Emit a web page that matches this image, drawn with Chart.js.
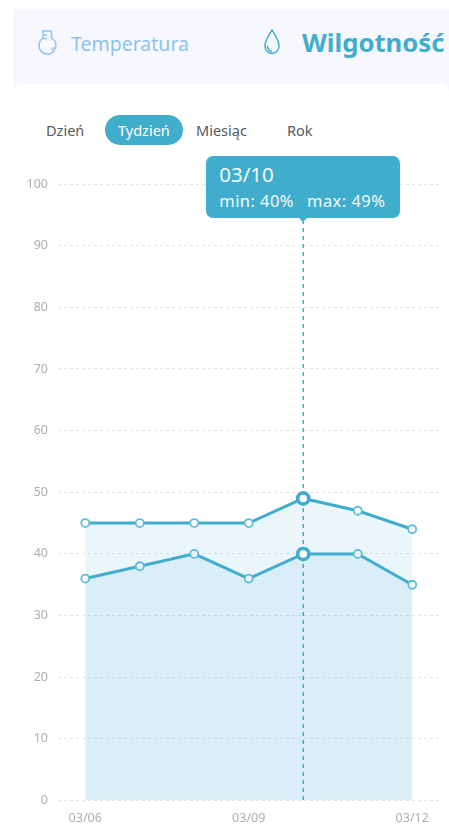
<!DOCTYPE html>
<html><head><meta charset="utf-8">
<script src="https://cdn.jsdelivr.net/npm/chart.js@4"></script>
<style>
html,body{margin:0;padding:0;background:#fff;width:449px;height:826px;overflow:hidden;font-family:"Noto Sans",sans-serif}
#panel{position:absolute;left:13px;top:9px;width:436px;height:85px;background:#f7f8fd}
#card{position:absolute;left:13px;top:84px;width:436px;height:30px;background:#fff;border-radius:8px 8px 0 0}
.t{position:absolute;white-space:nowrap;line-height:1}
svg{position:absolute}
canvas{position:absolute;left:0;top:0}
#tip{position:absolute;width:194px;height:62px;background:#41adcd;border-radius:7px;color:#f2fafc;z-index:3}
#tip:after{content:"";position:absolute;left:93px;bottom:-4px;border-left:4px solid transparent;border-right:4px solid transparent;border-top:4px solid #41adcd}
#tip .a{position:absolute;left:13px;top:5px;font-size:20.5px;line-height:26px}
#tip .b{position:absolute;left:13px;top:34px;font-size:16.5px;line-height:22px;letter-spacing:.45px;white-space:nowrap}
#tip .b span+span{margin-left:13px}
#pill{position:absolute;left:105px;top:115px;width:78px;height:30px;border-radius:15px;background:#41adcd}
</style></head><body>
<div id="panel"></div><div id="card"></div>
<svg style="left:37px;top:29px" width="22" height="28" viewBox="0 0 22 28" fill="none" stroke="#8cc3ef" stroke-width="1.5"><path d="M5 2h10M6 2v7C3 11 2 14 2 16.500 2 21.500 6 25 10.500 25S19 21.500 19 16.500C19 14 17.500 11 14.500 9V2M6 6h4M6 9.500h4"/><path d="M14 21c1.500-.5 2.500-1.700 3-3"/></svg>
<div class="t" style="left:71px;top:34px;font-size:19.500px;color:#8cc3ef">Temperatura</div>
<svg style="left:262px;top:28px" width="20" height="28" viewBox="0 0 20 28" fill="none" stroke="#41adcd" stroke-width="1.500"><path d="M10 2C8 5 3 12 3 18c0 4 3 7.500 7 7.500s7-3.500 7-7.500C17 12 12 5 10 2z"/><path d="M5.500 18c0 3 2 5 4.500 5.500"/></svg>
<div class="t" style="left:302px;top:30px;font-size:25.700px;font-weight:700;color:#41adcd">Wilgotność</div>
<div id="pill"></div>
<div class="t" style="left:46px;top:123px;font-size:14.500px;color:#555a63">Dzień</div>
<div class="t" style="left:118px;top:123px;font-size:14.500px;color:#fff">Tydzień</div>
<div class="t" style="left:196px;top:123px;font-size:14.500px;color:#555a63">Miesiąc</div>
<div class="t" style="left:287px;top:123px;font-size:14.500px;color:#555a63">Rok</div>
<canvas id="c" width="449" height="826"></canvas>
<div id="tip"><div class="a"></div><div class="b"><span></span><span></span></div></div>
<script>
const categories = ["03/06","03/07","03/08","03/09","03/10","03/11","03/12"];
const shownLabels = ["03/06","03/09","03/12"];
const minValues = [36,38,40,36,40,40,35];
const maxValues = [45,45,45,45,49,47,44];
const activeIndex = 4;
const teal = "#41adcd";

const crosshair = {
  id:"crosshair",
  afterDatasetsDraw(chart){
    const x = chart.scales.x.getPixelForValue(activeIndex);
    const ctx = chart.ctx;
    ctx.save();
    ctx.strokeStyle = teal; ctx.lineWidth = 1.5; ctx.setLineDash([4,4]);
    ctx.beginPath(); ctx.moveTo(x,220); ctx.lineTo(x,chart.chartArea.bottom); ctx.stroke();
    ctx.restore();
    chart.getActiveElements().forEach(a=>chart.getDatasetMeta(a.datasetIndex).data[a.index].draw(ctx));
  }
};
const ds = (label,data)=>({label,data,borderColor:teal,borderWidth:3,tension:0,fill:"origin",
  backgroundColor:"rgba(60,170,215,0.1)",pointRadius:4,pointBorderWidth:1.800,pointBorderColor:"#62bdd7",
  pointBackgroundColor:"#fff",pointHoverRadius:5.500,pointHoverBorderWidth:3.500,pointHoverBorderColor:teal,pointHoverBackgroundColor:"#fff"});
const chart = new Chart(document.getElementById("c"),{
  type:"line",
  data:{labels:categories,datasets:[ds("max",maxValues),ds("min",minValues)]},
  plugins:[crosshair],
  options:{
    responsive:false,animation:false,events:[],
    layout:{padding:{top:184,right:9.5,left:0,bottom:0}},
    plugins:{legend:{display:false},tooltip:{enabled:false}},
    scales:{
      x:{offset:true,border:{display:false},grid:{display:false},
        afterFit(s){s.height=25.5},
        ticks:{autoSkip:false,maxRotation:0,padding:2,color:"#aeaeae",font:{size:12.500,family:"Noto Sans"},
          callback(v){const l=categories[v];return shownLabels.includes(l)?l:""}}},
      y:{min:0,max:100,border:{display:false,dash:[3,3]},
        afterFit(s){s.width=58},
        grid:{drawTicks:false,color:"#e6e6e6",lineWidth:1},
        ticks:{stepSize:10,padding:10,color:"#aeaeae",font:{size:12.500,family:"Noto Sans"}}}
    }
  }
});
chart.setActiveElements([{datasetIndex:0,index:activeIndex},{datasetIndex:1,index:activeIndex}]);
chart.update();
const tip=document.getElementById("tip");
tip.querySelector(".a").textContent=categories[activeIndex];
const parts=tip.querySelectorAll(".b span");
parts[0].textContent="min: "+minValues[activeIndex]+"%";
parts[1].textContent="max: "+maxValues[activeIndex]+"%";
tip.style.left=(chart.scales.x.getPixelForValue(activeIndex)-97)+"px";
tip.style.top="156px";
</script>
</body></html>
